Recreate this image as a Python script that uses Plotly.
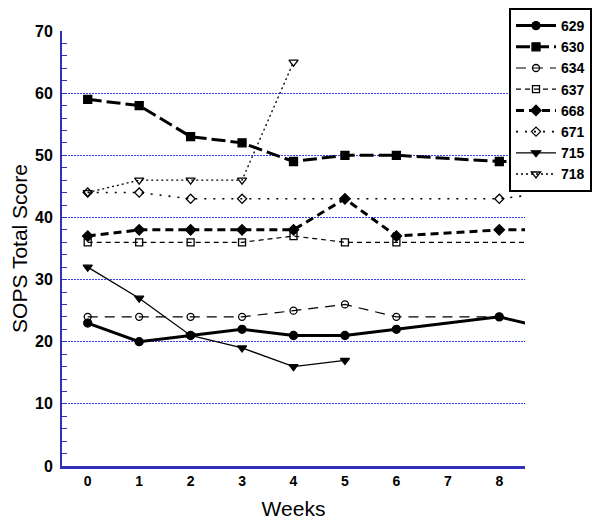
import plotly.graph_objects as go

weeks = [0, 1, 2, 3, 4, 5, 6, 8, 9]
s629 = [23, 20, 21, 22, 21, 21, 22, 24, 22]
s630 = [59, 58, 53, 52, 49, 50, 50, 49, 49]
s634 = [24, 24, 24, 24, 25, 26, 24, 24]
weeks634 = [0, 1, 2, 3, 4, 5, 6, 8]
s637 = [36, 36, 36, 36, 37, 36, 36, 36]
weeks637 = [0, 1, 2, 3, 4, 5, 6, 9]
s668 = [37, 38, 38, 38, 38, 43, 37, 38, 38]
s671 = [44, 44, 43, 43, 43, 44]
weeks671 = [0, 1, 2, 3, 8, 9]
s715 = [32, 27, 21, 19, 16, 17]
weeks715 = [0, 1, 2, 3, 4, 5]
s718 = [44, 46, 46, 46, 65]
weeks718 = [0, 1, 2, 3, 4]
tick_vals_y = [0, 10, 20, 30, 40, 50, 60, 70]
tick_vals_x = [0, 1, 2, 3, 4, 5, 6, 7, 8]

BLUE_AX = "#3030b8"
GRID = "#3c3cf5"

series = [
    ("629", weeks, s629, "solid", 3, "circle", 8),
    ("630", weeks, s630, "14px,5px", 3, "square", 8),
    ("634", weeks634, s634, "10px,7px", 1.2, "circle-open", 7),
    ("637", weeks637, s637, "5px,4px", 1.2, "square-open", 7),
    ("668", weeks, s668, "8px,5px", 3, "diamond", 8),
    ("671", weeks671, s671, "2px,7px", 1.6, "diamond-open", 7),
    ("715", weeks715, s715, "solid", 1.3, "triangle-down", 8),
    ("718", weeks718, s718, "2px,3px", 1.3, "triangle-down-open", 8),
]

fig = go.Figure()
for name, xs, ys, dash, w, sym, sz in series:
    fig.add_trace(go.Scatter(
        x=xs, y=ys, name=name, mode="lines+markers",
        line=dict(color="black", width=w, dash=dash),
        marker=dict(symbol=sym, size=sz, color="black",
                    line=dict(color="black", width=1.3)),
    ))

fig.update_layout(
    width=600, height=520,
    margin=dict(l=54, r=83, t=23, b=62, autoexpand=False),
    paper_bgcolor="white", plot_bgcolor="white",
    font=dict(family="Arial, Liberation Sans, sans-serif", color="black"),
    legend=dict(
        xref="container", yref="container",
        x=0.835, y=1.0, xanchor="left", yanchor="top",
        bgcolor="white", bordercolor="black", borderwidth=2,
        font=dict(size=14, family="Arial, Liberation Sans, sans-serif", weight="bold"),
        tracegroupgap=0, itemwidth=40,
    ),
    xaxis=dict(
        range=[-0.5, 8.5], tickvals=tick_vals_x, showgrid=False,
        zeroline=False, showline=True, linecolor=BLUE_AX, linewidth=2.5, ticks="",
        tickfont=dict(size=14, weight="bold"),
        title=dict(text="Weeks", font=dict(size=21), standoff=14),
    ),
    yaxis=dict(
        range=[0, 70], tickvals=tick_vals_y, showgrid=True,
        gridcolor=GRID, griddash="2px,1px", gridwidth=1,
        zeroline=False, showline=True, linecolor=BLUE_AX, linewidth=2,
        ticks="inside", ticklen=5, tickcolor=BLUE_AX,
        minor=dict(dtick=2, ticks="inside", ticklen=5, tickcolor=BLUE_AX, showgrid=False),
        tickfont=dict(size=16, weight="bold"),
        ticklabelstandoff=4,
        title=dict(text="SOPS Total Score", font=dict(size=21), standoff=8),
    ),
)

fig.write_html("out.html")
